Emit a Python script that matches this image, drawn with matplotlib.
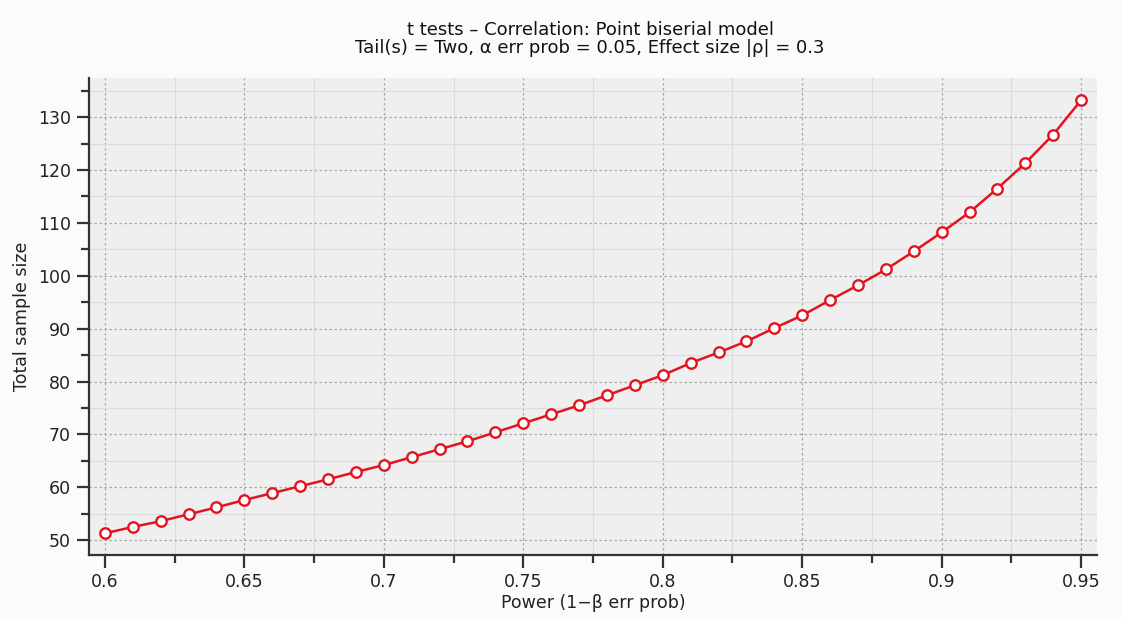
import numpy as np
import matplotlib
matplotlib.use('Agg')
import matplotlib.pyplot as plt
from matplotlib.ticker import MultipleLocator

# Values
power = [0.60, 0.61, 0.62, 0.63, 0.64, 0.65, 0.66, 0.67, 0.68, 0.69,
         0.70, 0.71, 0.72, 0.73, 0.74, 0.75, 0.76, 0.77, 0.78, 0.79,
         0.80, 0.81, 0.82, 0.83, 0.84, 0.85, 0.86, 0.87, 0.88, 0.89,
         0.90, 0.91, 0.92, 0.93, 0.94, 0.95]
sample_size = [51.3, 52.5, 53.6, 54.9, 56.2, 57.6, 58.9, 60.2, 61.5, 62.9,
               64.2, 65.7, 67.2, 68.7, 70.4, 72.1, 73.8, 75.5, 77.4, 79.3,
               81.2, 83.5, 85.5, 87.6, 90.1, 92.5, 95.4, 98.2, 101.2, 104.6,
               108.2, 112.0, 116.5, 121.3, 126.7, 133.2]
x_ticks = [0.6, 0.65, 0.7, 0.75, 0.8, 0.85, 0.9, 0.95]
x_labels = ['0.6', '0.65', '0.7', '0.75', '0.8', '0.85', '0.9', '0.95']
y_ticks = [50, 60, 70, 80, 90, 100, 110, 120, 130]

title = 't tests – Correlation: Point biserial model\nTail(s) = Two, α err prob = 0.05, Effect size |ρ| = 0.3'

fig = plt.figure(figsize=(11.22, 6.19), dpi=100, facecolor='#fbfbfb')
ax = fig.add_axes([89 / 1122, 1 - 555 / 619, (1097 - 89) / 1122, (555 - 78) / 619])
ax.set_facecolor('#efefef')

ax.plot(power, sample_size, color='#e3141f', lw=1.8, marker='o', ms=7.5,
        mfc='white', mec='#e3141f', mew=1.7, zorder=5)

ax.set_xlim(0.5943, 0.9557)
ax.set_ylim(47.2, 137.4)
ax.set_xticks(x_ticks)
ax.set_xticklabels(x_labels)
ax.set_yticks(y_ticks)
ax.xaxis.set_minor_locator(MultipleLocator(0.025))
ax.yaxis.set_minor_locator(MultipleLocator(5))

ax.grid(which='major', color='#a8a8a8', ls=(0, (2, 2)), lw=0.9)
ax.grid(which='minor', color='#dcdcdc', ls='-', lw=0.8)
ax.set_axisbelow(True)

for s in ['top', 'right']:
    ax.spines[s].set_visible(False)
for s in ['left', 'bottom']:
    ax.spines[s].set_color('#333333')
    ax.spines[s].set_linewidth(1.6)

ax.tick_params(which='major', direction='out', length=9, width=1.6, color='#333333',
               labelsize=12.5, labelcolor='#222222', pad=4)
ax.tick_params(which='minor', direction='out', length=6, width=1.6, color='#333333')

ax.set_xlabel('Power (1−β err prob)', fontsize=12.5, color='#222222', labelpad=2)
ax.set_ylabel('Total sample size', fontsize=12.5, color='#222222', labelpad=5)
fig.text(0.526, 1 - 21 / 619, title, ha='center', va='top', fontsize=13,
         color='#111111', linespacing=1.0)

fig.savefig('out.png', dpi=100, facecolor=fig.get_facecolor())
